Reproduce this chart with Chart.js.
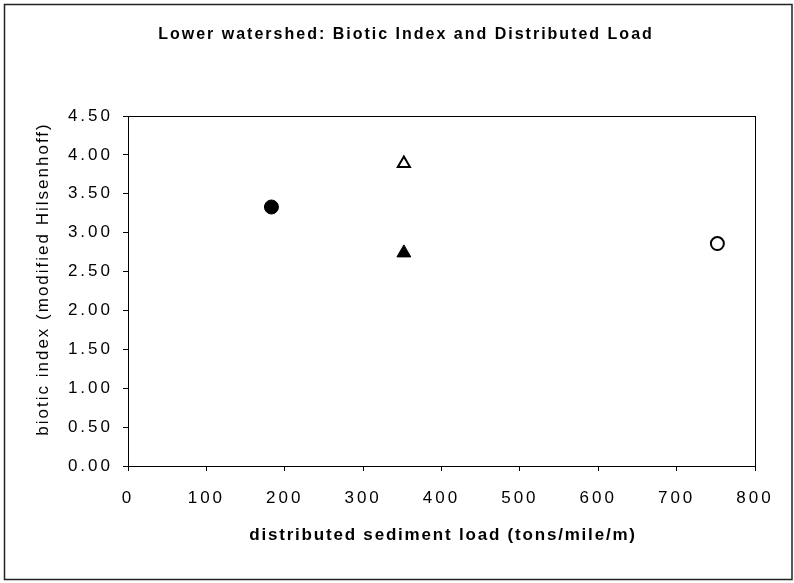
<!DOCTYPE html>
<html lang="en">
<head>
    <meta charset="UTF-8">
    <title>Lower watershed: Biotic Index and Distributed Load</title>
    <style>
        body { margin: 0; background: #fff; }
        .container { position: relative; width: 794px; height: 583px; }
    </style>
</head>
<body>
    <div class="container">
        <canvas id="graficaBiotic"></canvas>
    </div>

    <script src="https://cdn.jsdelivr.net/npm/chart.js"></script>
    <script>
        // datos
        const sitios = ['sitio 1', 'sitio 2', 'sitio 3', 'sitio 4'];
        const cargaSedimento = [183, 352, 352, 752];
        const indiceBiotico = [3.33, 3.89, 2.74, 2.86];
        const ticksX = [0, 100, 200, 300, 400, 500, 600, 700, 800];
        const ticksY = [0, 0.5, 1, 1.5, 2, 2.5, 3, 3.5, 4, 4.5];

        const fuente = '"Liberation Sans", Arial, sans-serif';

        // estilos de cada marcador
        const formas = ['circle', 'triangle', 'triangle', 'circle'];
        const rellenos = ['#000', '#fff', '#000', '#fff'];
        const radios = [7, 7, 8, 6.5];
        const bordes = [1, 2, 1, 2];

        const marco = {
            id: 'marco',
            beforeDraw(chart) {
                chart.ctx.letterSpacing = '3px';
            },
            afterDraw(chart) {
                const ctx = chart.ctx;
                const a = chart.chartArea;
                ctx.save();
                ctx.strokeStyle = '#000';
                ctx.lineWidth = 1;
                ctx.strokeRect(a.left + 0.5, a.top + 0.5, a.right - a.left, a.bottom - a.top);
                ctx.strokeStyle = '#222';
                ctx.lineWidth = 1.5;
                ctx.strokeRect(4.5, 4.5, 787.5, 575);
                ctx.fillStyle = '#000';
                ctx.textAlign = 'center';
                ctx.textBaseline = 'middle';
                ctx.font = 'bold 16px ' + fuente;
                ctx.letterSpacing = '2px';
                ctx.fillText('Lower watershed: Biotic Index and Distributed Load', 406, 35);
                ctx.font = 'bold 17px ' + fuente;
                ctx.letterSpacing = '1.8px';
                ctx.fillText('distributed sediment load (tons/mile/m)', 443, 535);
                ctx.translate(43, 279);
                ctx.rotate(-Math.PI / 2);
                ctx.font = '17px ' + fuente;
                ctx.letterSpacing = '2px';
                ctx.fillText('biotic index (modified Hilsenhoff)', 0, 0);
                ctx.restore();
            }
        };

        function crearGrafica() {
            const ctx = document.getElementById('graficaBiotic').getContext('2d');
            const puntos = sitios.map((s, i) => ({ x: cargaSedimento[i], y: indiceBiotico[i] }));
            new Chart(ctx, {
                type: 'scatter',
                data: {
                    datasets: [{
                        label: 'biotic index',
                        data: puntos,
                        pointStyle: formas,
                        backgroundColor: rellenos,
                        borderColor: '#000',
                        borderWidth: bordes,
                        pointRadius: radios,
                        pointHoverRadius: radios
                    }]
                },
                options: {
                    responsive: true,
                    maintainAspectRatio: false,
                    animation: false,
                    events: [],
                    layout: { padding: { left: 0, right: 39, top: 116, bottom: 0 } },
                    plugins: {
                        legend: { display: false },
                        title: { display: false },
                        tooltip: { enabled: false }
                    },
                    scales: {
                        x: {
                            type: 'linear',
                            min: 0,
                            max: 800,
                            afterBuildTicks: s => { s.ticks = ticksX.map(v => ({ value: v })); },
                            afterFit: s => { s.height = 117; },
                            grid: { drawOnChartArea: false, drawTicks: true, tickLength: 5, color: '#000' },
                            border: { display: true, color: '#000', width: 1 },
                            ticks: { color: '#000', font: { family: fuente, size: 17 }, padding: 17, maxRotation: 0 }
                        },
                        y: {
                            type: 'linear',
                            min: 0,
                            max: 4.5,
                            afterBuildTicks: s => { s.ticks = ticksY.map(v => ({ value: v })); },
                            afterFit: s => { s.width = 128; },
                            grid: { drawOnChartArea: false, drawTicks: true, tickLength: 5, color: '#000' },
                            border: { display: true, color: '#000', width: 1 },
                            ticks: {
                                color: '#000',
                                font: { family: fuente, size: 17 },
                                padding: 10,
                                callback: v => v.toFixed(2)
                            }
                        }
                    }
                },
                plugins: [marco]
            });
        }

        crearGrafica();
    </script>
</body>
</html>
